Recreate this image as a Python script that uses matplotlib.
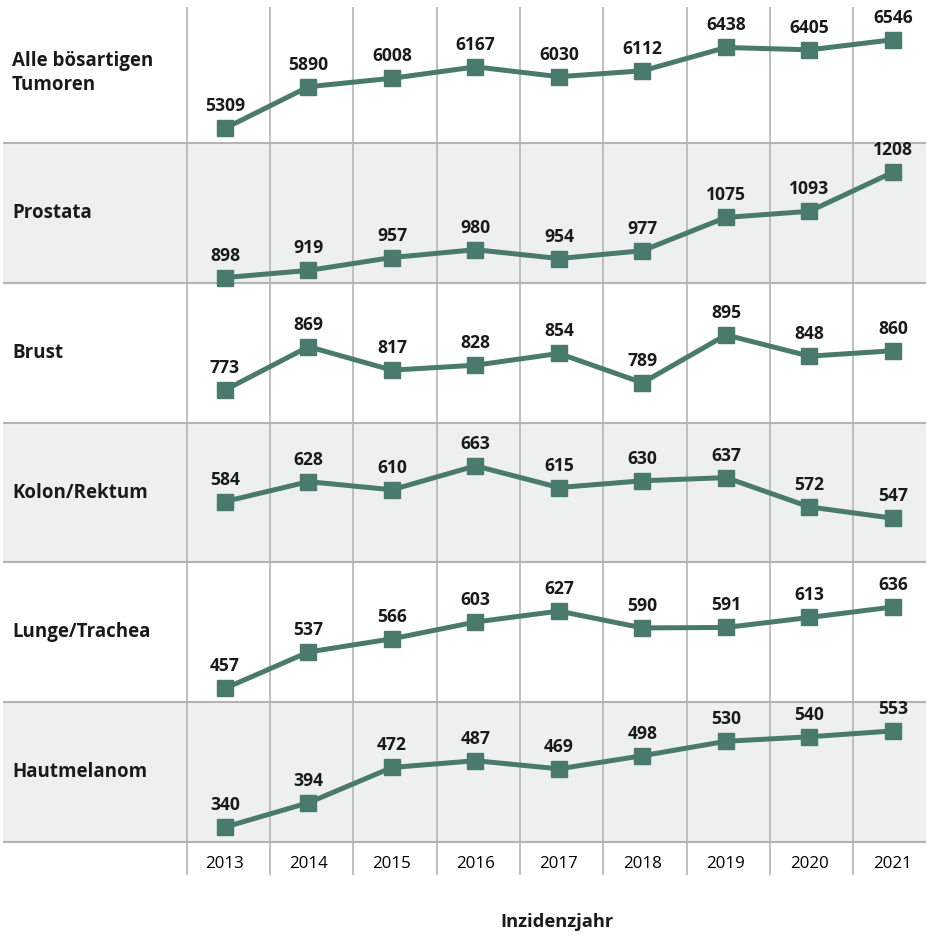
import numpy as np
import matplotlib
matplotlib.use("Agg")
import matplotlib.pyplot as plt

plt.rcParams.update({
    "font.family": ["Open Sans", "DejaVu Sans"],
    "font.size": 12,
    "text.color": "#1a1a1a",
})

years = ["2013", "2014", "2015", "2016", "2017", "2018", "2019", "2020", "2021"]

categories = [
    "Alle bösartigen\nTumoren",
    "Prostata",
    "Brust",
    "Kolon/Rektum",
    "Lunge/Trachea",
    "Hautmelanom",
]

alle = [5309, 5890, 6008, 6167, 6030, 6112, 6438, 6405, 6546]
prostata = [898, 919, 957, 980, 954, 977, 1075, 1093, 1208]
brust = [773, 869, 817, 828, 854, 789, 895, 848, 860]
kolon = [584, 628, 610, 663, 615, 630, 637, 572, 547]
lunge = [457, 537, 566, 603, 627, 590, 591, 613, 636]
haut = [340, 394, 472, 487, 469, 498, 530, 540, 553]

series = [alle, prostata, brust, kolon, lunge, haut]

# per-row value ranges (each row has its own scale)
row_ylims = [(5104, 7059), (882, 1294), (700, 1010), (450, 758), (427, 735), (307, 617)]

W, H = 928, 938
GREEN = "#4a7a6c"
GRID = "#b4b4b4"
BAND = "#eef0ef"

# row edges in pixels, column layout in pixels
edges = [3, 143, 283, 423, 562, 702, 842]
x0_px, step_px = 225.0, 83.5

fig = plt.figure(figsize=(W / 100, H / 100), dpi=100)

# background: bands, grid, row titles (pixel coordinates)
bg = fig.add_axes([0, 0, 1, 1])
bg.set_xlim(0, W)
bg.set_ylim(H, 0)
bg.axis("off")

for i in range(len(categories)):
    if i % 2 == 1:
        bg.axhspan(edges[i], edges[i + 1], xmin=3 / W, xmax=926 / W,
                   color=BAND, lw=0, zorder=0)
    bg.text(12, (edges[i] + edges[i + 1]) / 2, categories[i],
            fontsize=13.5, fontweight="bold", ha="left", va="center",
            linespacing=1.25)

bg.hlines(edges[1:], 3, 926, color=GRID, lw=1.5, zorder=1)
col_bounds = 186.7 + 83.33 * np.arange(len(years))
bg.vlines(col_bounds, 7, 875, color=GRID, lw=1.2, zorder=1)

bg.text(557, 922, "Inzidenzjahr", fontsize=13.2, fontweight="bold",
        ha="center", va="center")

xlim = (-x0_px / step_px, (W - x0_px) / step_px)
x = np.arange(len(years))

for i, vals in enumerate(series):
    top, bot = edges[i], edges[i + 1]
    ax = fig.add_axes([0, 1 - bot / H, 1, (bot - top) / H])
    ax.patch.set_alpha(0)
    ax.set_xlim(*xlim)
    ax.set_ylim(*row_ylims[i])
    for s in ax.spines.values():
        s.set_visible(False)
    ax.set_yticks([])

    ax.plot(x, vals, color=GREEN, lw=3.6, marker="s", markersize=12,
            solid_joinstyle="miter", clip_on=False, zorder=3)

    for xi, v in zip(x, vals):
        ax.annotate(str(v), (xi, v), xytext=(0, 17), textcoords="offset pixels",
                    ha="center", va="baseline", fontsize=12.6, fontweight="bold",
                    annotation_clip=False)

    if i == len(series) - 1:
        ax.set_xticks(x, years)
        ax.tick_params(axis="x", length=0, pad=10, labelsize=12.2)
    else:
        ax.set_xticks([])

fig.savefig("out.png", dpi=100)
